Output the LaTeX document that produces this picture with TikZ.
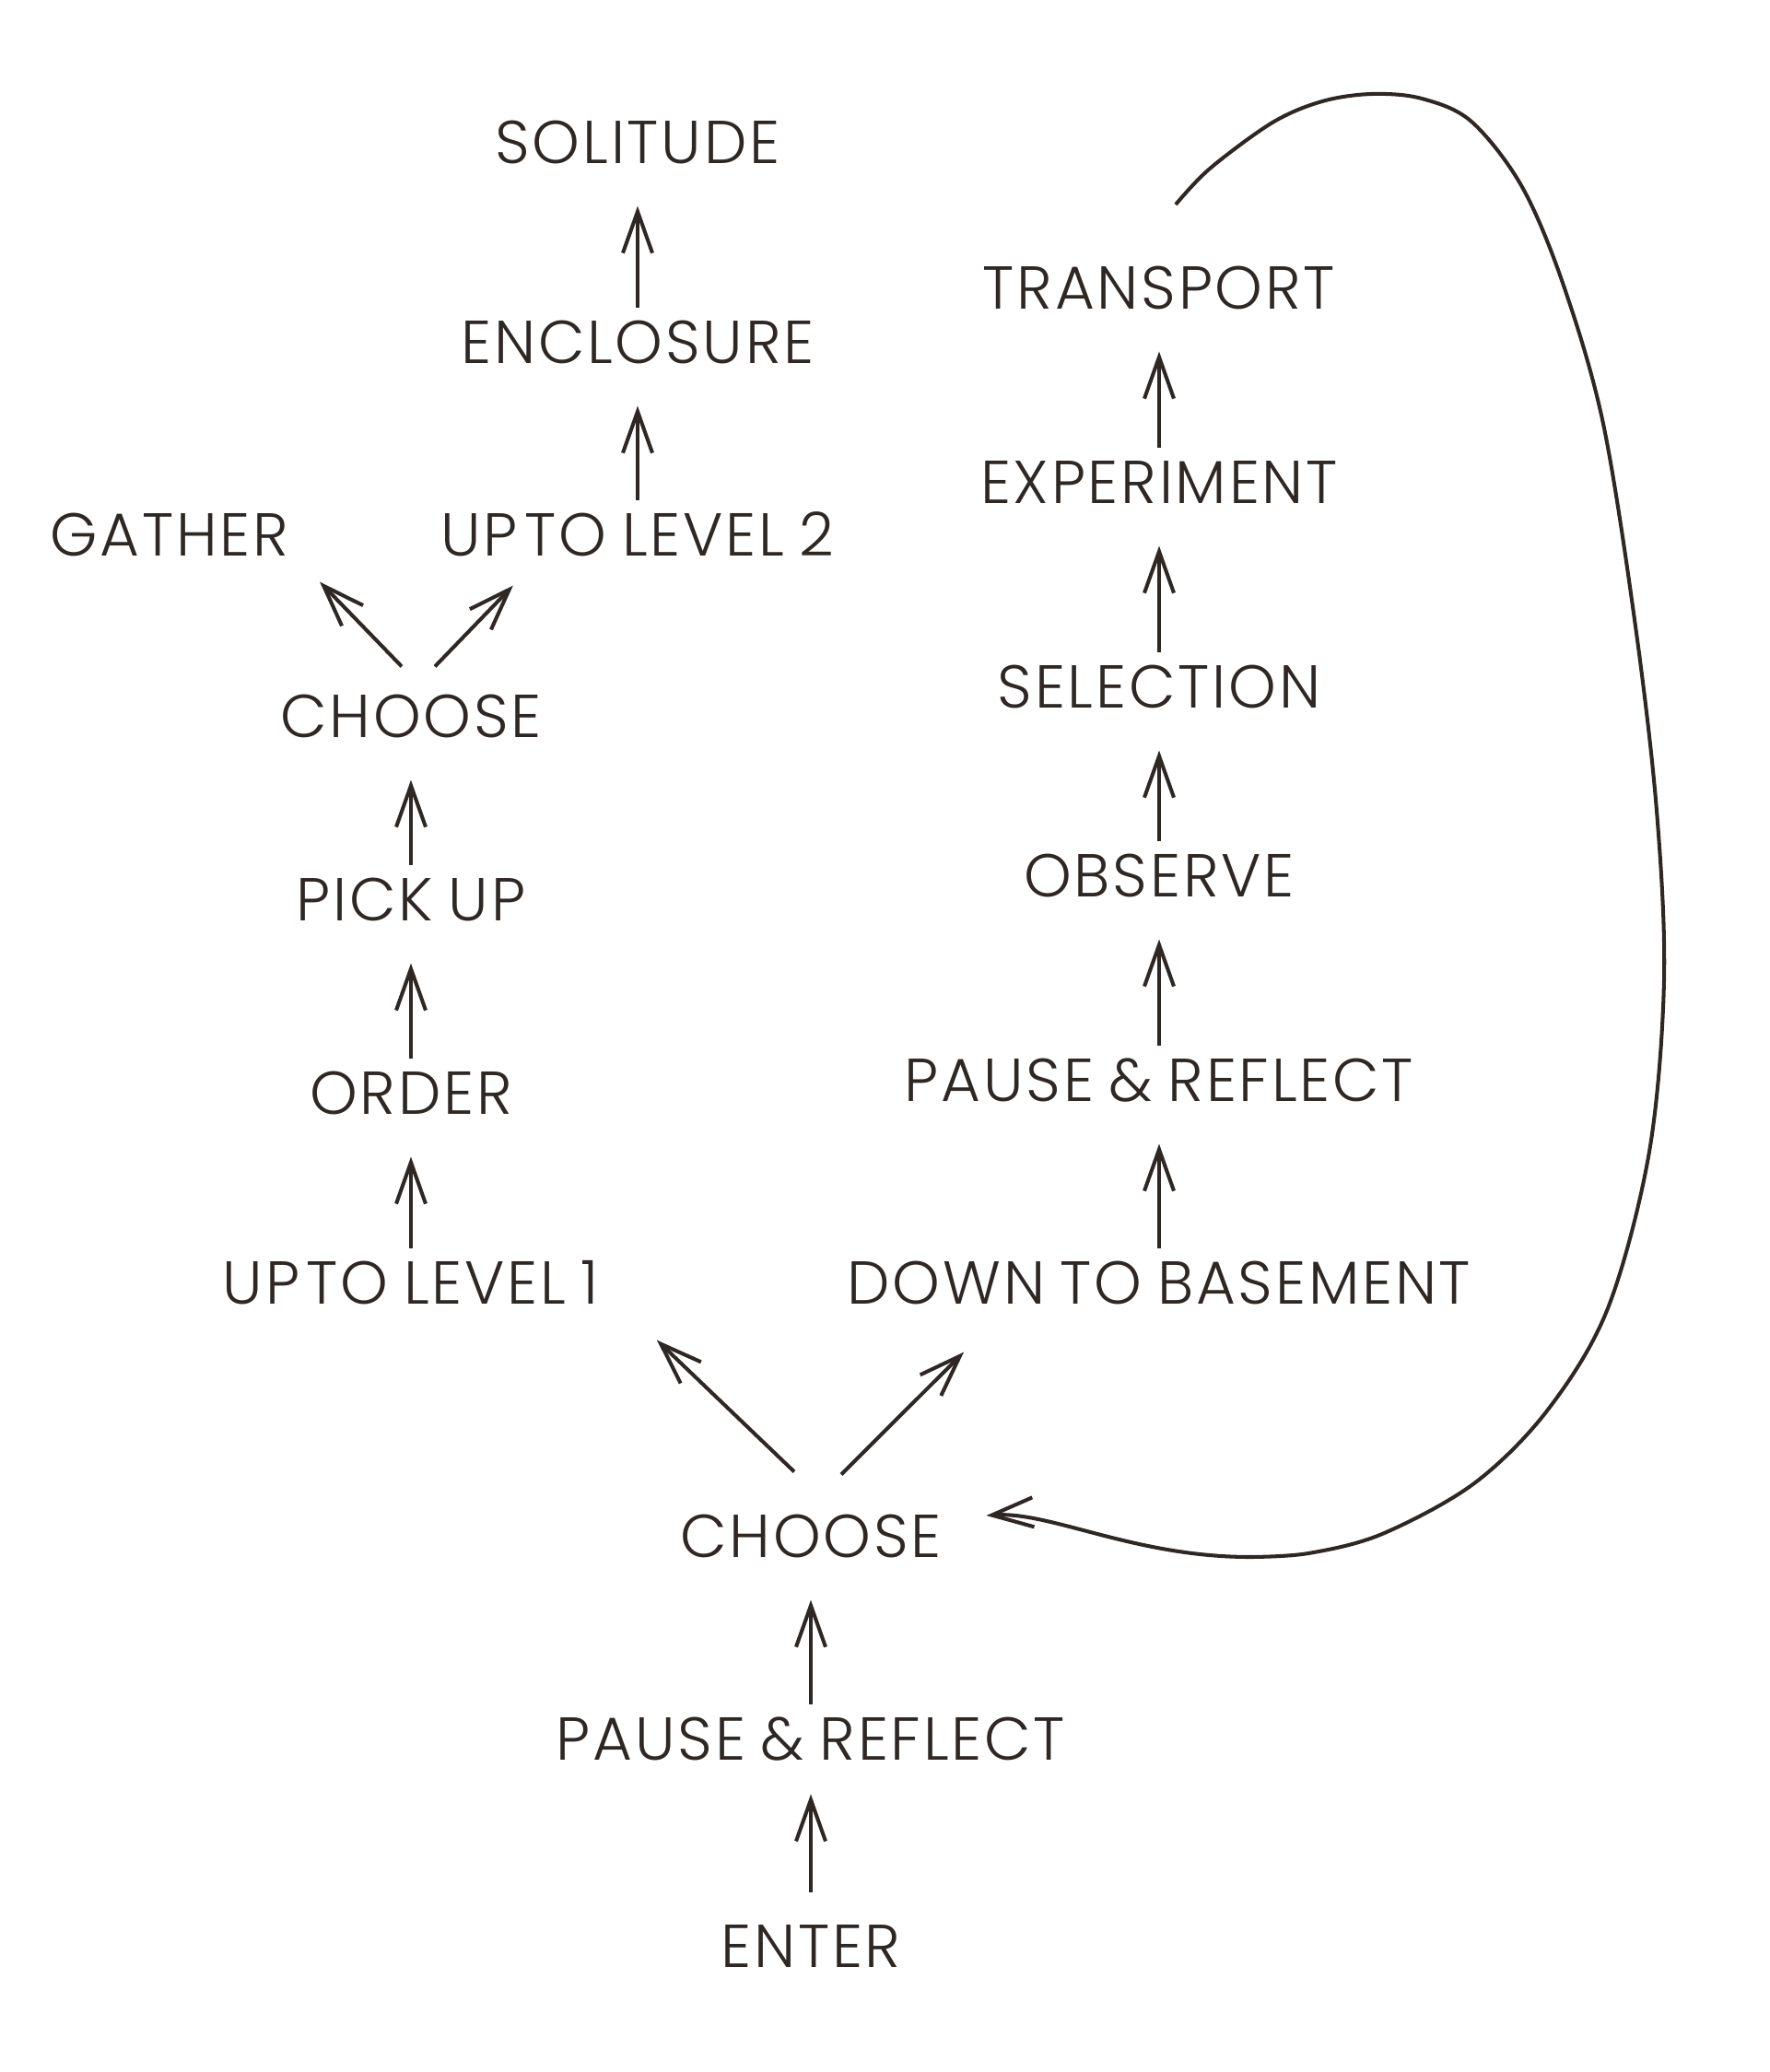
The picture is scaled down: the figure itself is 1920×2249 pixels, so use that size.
\documentclass[tikz,border=0pt]{standalone}
\usepackage{fontspec}
\setmainfont{Poppins Light}[LetterSpace=4.2, WordSpace=0.8]
\usepackage{tikz}
\usetikzlibrary{math, arrows.meta}
\definecolor{ink}{RGB}{46,39,36}

\begin{document}
\begin{tikzpicture}[x=0.01cm, y=-0.01cm,
  word/.style={inner sep=0pt, text height=13pt, text depth=0pt, text=ink,
    font=\fontsize{18.7}{22}\selectfont},
  flow/.style={draw=ink, line width=1.15pt,
    -{Straight Barb[length=4.5mm, width=3.2mm]},
    shorten <=4.2pt, shorten >=12.8pt}]

\tikzmath{
\colA = 446;
\colB = 692;
\colC = 880;
\colD = 1258;
}

\useasboundingbox (0,0) rectangle (1920,2249);

% upper left
\node[word] (solitude) at (\colB,155) {SOLITUDE};
\node[word] (enclosure) at (\colB,372) {ENCLOSURE};
\node[word] (level2) at (\colB,581) {UP\hspace{0.12em}TO LEVEL 2};
\node[word] (gather) at (184,581) {GATHER};
\node[word] (choose1) at (\colA,778) {CHOOSE};
\node[word] (pickup) at (\colA,977) {PICK UP};
\node[word] (order) at (\colA,1187) {ORDER};
\node[word] (level1) at (\colA,1393) {UP\hspace{0.12em}TO LEVEL 1};

% right
\node[word] (transport) at (\colD,313) {TRANSPORT};
\node[word] (experiment) at (\colD,524) {EXPERIMENT};
\node[word] (selection) at (\colD,746) {SELECTION};
\node[word] (observe) at (\colD,951) {OBSERVE};
\node[word] (reflect1) at (\colD,1173) {PAUSE \& REFLECT};
\node[word] (basement) at (\colD,1393) {DOWN TO BASEMENT};

% bottom
\node[word] (choose0) at (\colC,1668) {CHOOSE};
\node[word] (reflect0) at (\colC,1888) {PAUSE \& REFLECT};
\node[word] (enter) at (\colC,2113) {ENTER};

\foreach \a/\b in {enclosure/solitude, level2/enclosure, pickup/choose1, order/pickup,
    level1/order, experiment/transport, selection/experiment, observe/selection,
    reflect1/observe, basement/reflect1, reflect0/choose0}
    \draw[flow] (\a) -- (\b);
\draw[flow, shorten <=10.2pt, shorten >=10.2pt] (enter) -- (reflect0);

\draw[flow, shorten <=0pt, shorten >=0pt] ([shift={(-10,-31)}]choose1.north) -- ([shift={(33,27)}]gather.south east);
\draw[flow, shorten <=0pt, shorten >=0pt] ([shift={(26,-31)}]choose1.north) -- ([shift={(79,31)}]level2.south west);
\draw[flow, shorten <=0pt, shorten >=0pt] ([shift={(-18,-47)}]choose0.north) -- ([shift={(62,38)}]level1.south east);
\draw[flow, shorten <=0pt, shorten >=0pt] ([shift={(33,-44)}]choose0.north) -- ([shift={(127,51)}]basement.south west);

% the loop back
\coordinate (loopstart) at (1276,222);
\coordinate (looptip) at ([shift={(48,-23)}]choose0.east);
\draw[flow, shorten <=0pt, shorten >=0pt] plot[smooth, tension=0.55] coordinates {
  (loopstart) (1313,183) (1381,133) (1435,110) (1489,102) (1543,107) (1597,132)
  (1652,203) (1697,310) (1740,460) (1775,680) (1798,880) (1806,1063)
  (1790,1250) (1745,1420) (1680,1530) (1600,1610) (1500,1665) (1420,1686)
  (1357,1690)}
  .. controls (1230,1690) and (1140,1640) .. (looptip);

\end{tikzpicture}
\end{document}
